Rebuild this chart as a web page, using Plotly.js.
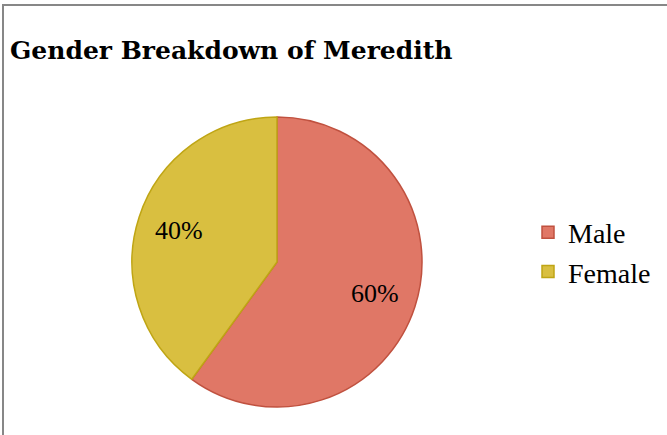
<!DOCTYPE html>
<html><head><meta charset="utf-8">
<script src="https://cdn.plot.ly/plotly-3.0.1.min.js"></script>
<style>html,body{margin:0;padding:0;background:#fff}#chart{width:667px;height:435px}</style>
</head><body><div id="chart"></div>
<script>
const categories = ["Male", "Female"];
const shares = [60, 40];
const fillColors = ["#E07766", "#D9BF40"];
const lineColors = ["#C0513F", "#BFA514"];

const W = 667, H = 435;
const domX = [132/W, 422/W], domY = [28/H, 318/H];
const labelFont = {family: "Liberation Serif, serif", size: 26, color: "#000"};

const trace = {
  type: "pie",
  labels: categories,
  values: shares,
  sort: false,
  direction: "clockwise",
  rotation: 0,
  marker: {colors: fillColors, line: {color: lineColors, width: 1.5}},
  textinfo: "none",
  domain: {x: domX, y: domY},
  hoverinfo: "label+percent"
};

// percentage labels placed along each slice's mid-angle (derived from the data)
const total = shares.reduce((a, b) => a + b, 0);
const cx = (domX[0] + domX[1]) / 2, cy = (domY[0] + domY[1]) / 2;
const rPx = Math.min((domX[1]-domX[0])*W, (domY[1]-domY[0])*H) / 2;
let cum = 0;
const annotations = shares.map(v => {
  const mid = (cum + v / 2) / total * 2 * Math.PI;
  cum += v;
  const r = 0.71 * rPx;
  return {
    xref: "paper", yref: "paper",
    x: cx + Math.sin(mid) * r / W,
    y: cy + Math.cos(mid) * r / H,
    text: Math.round(v / total * 100) + "%",
    showarrow: false, font: labelFont,
    xanchor: "center", yanchor: "middle"
  };
});

const layout = {
  width: W, height: H,
  margin: {l: 0, r: 0, t: 0, b: 0},
  paper_bgcolor: "#fff",
  title: {
    text: "<b>Gender Breakdown of Meredith</b>",
    font: {family: "DejaVu Serif, serif", size: 25, color: "#000"},
    x: 10/W, xanchor: "left", xref: "paper",
    y: 1 - 50/H, yanchor: "middle", yref: "container"
  },
  showlegend: true,
  legend: {
    x: 528/W, xanchor: "left", y: 1 - 252/H, yanchor: "middle",
    font: {family: "Liberation Serif, serif", size: 28, color: "#000"},
    traceorder: "normal"
  },
  annotations: annotations,
  shapes: [{
    type: "rect", xref: "paper", yref: "paper",
    x0: 3/W, x1: 1.02, y0: -0.02, y1: 1 - 5/H,
    line: {color: "#878787", width: 2}, fillcolor: "rgba(0,0,0,0)", layer: "above"
  }]
};

Plotly.newPlot("chart", [trace], layout, {displayModeBar: false, staticPlot: true});
</script></body></html>
